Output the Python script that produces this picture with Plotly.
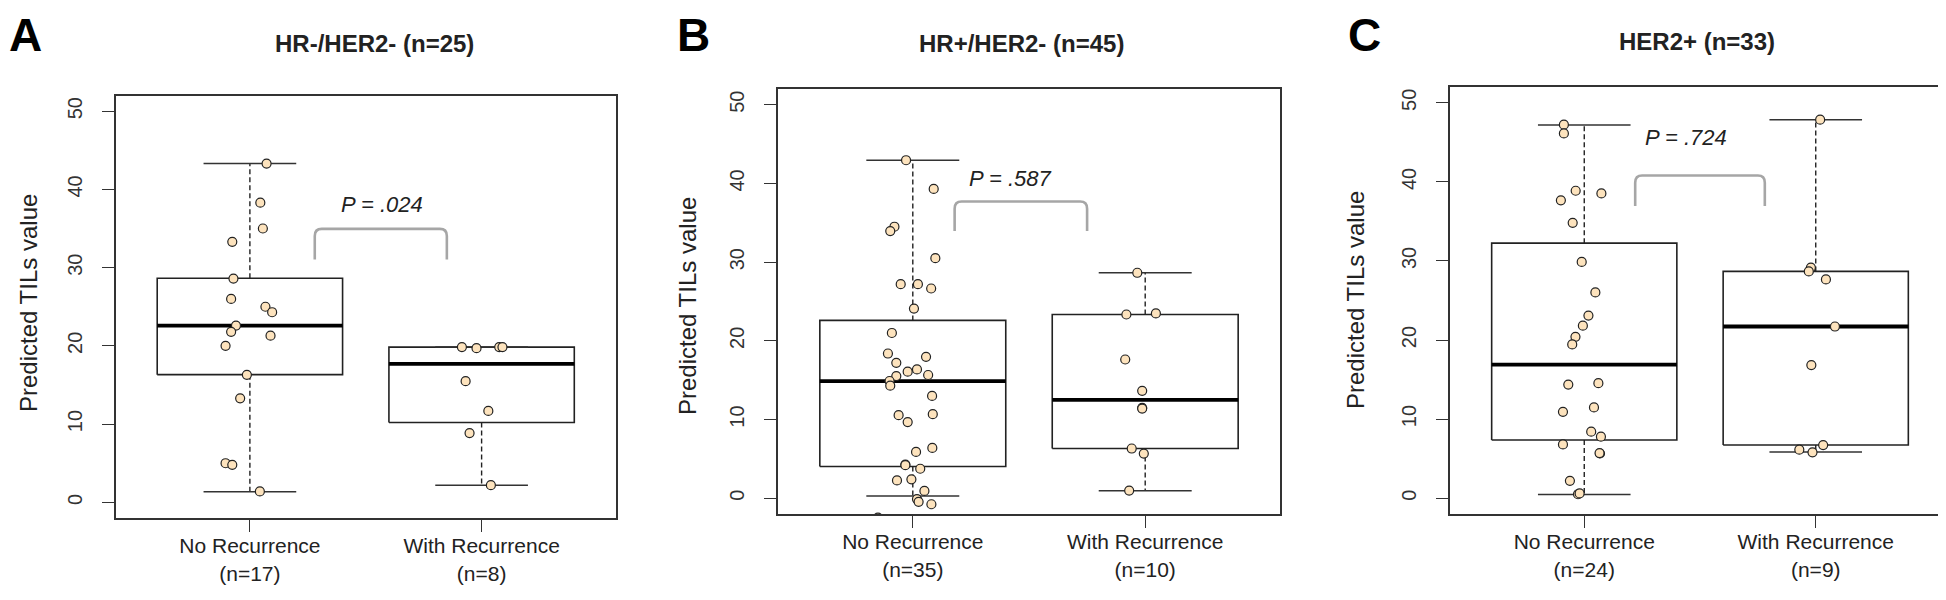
import plotly.graph_objects as go

W, H = 1946, 600

# ---------------- data ----------------
panel_letters = ["A", "B", "C"]
panel_titles = ["HR-/HER2- (n=25)", "HR+/HER2- (n=45)", "HER2+ (n=33)"]
group_names = ["No Recurrence", "With Recurrence"]
group_counts = [[17, 8], [35, 10], [24, 9]]
p_values = [".024", ".587", ".724"]
y_ticks = [0, 10, 20, 30, 40, 50]
y_title = "Predicted TILs value"

# box statistics: [lower whisker, lower hinge, median, upper hinge, upper whisker]
a_no_stats = [1.37, 16.32, 22.58, 28.64, 43.3]
a_with_stats = [2.2, 10.21, 17.69, 19.84, 19.84]
b_no_stats = [0.29, 4.04, 14.88, 22.6, 42.95]
b_with_stats = [0.97, 6.32, 12.5, 23.35, 28.65]
c_no_stats = [0.48, 7.35, 16.88, 32.25, 47.2]
c_with_stats = [5.85, 6.72, 21.71, 28.68, 47.87]

# individual predicted TILs values and their horizontal jitter (in category units)
a_no_vals = [43.3, 38.3, 35.0, 33.3, 28.6, 26.0, 25.0, 24.3, 22.6, 21.8, 21.3, 20.0, 16.3, 13.3, 5.0, 4.8, 1.4]
a_no_jit = [0.072, 0.045, 0.056, -0.076, -0.071, -0.081, 0.067, 0.096, -0.060, -0.081, 0.089, -0.105, -0.013, -0.042, -0.105, -0.076, 0.043]
a_with_vals = [19.84, 19.7, 19.84, 19.84, 15.49, 11.68, 8.85, 2.2]
a_with_jit = [-0.085, -0.022, 0.076, 0.090, -0.069, 0.029, -0.052, 0.040]

b_no_vals = [42.95, 39.3, 34.5, 33.95, 30.5, 27.2, 27.2, 26.65, 24.1,
             21.0, 18.39, 17.97, 17.21, 16.37, 16.08, 15.66, 15.53, 14.9, 14.31,
             13.0, 10.69, 10.56, 9.68, 6.40, 5.89, 4.29, 4.2, 3.75, 2.40, 2.27,
             0.93, -0.1, -0.45, -0.76, -2.45]
b_no_jit = [-0.029, 0.090, -0.079, -0.097, 0.097, -0.052, 0.022, 0.079, 0.005,
            -0.090, -0.107, 0.057, -0.071, 0.018, -0.022, 0.066, -0.071, -0.100, -0.097,
            0.083, 0.086, -0.061, -0.022, 0.084, 0.014, -0.032, -0.032, 0.032, -0.006, -0.068,
            0.050, 0.018, 0.025, 0.080, -0.150]
b_with_vals = [28.65, 23.35, 23.48, 17.63, 13.65, 11.49, 11.4, 6.32, 5.68, 0.98]
b_with_jit = [-0.034, -0.081, 0.046, -0.086, -0.013, -0.013, -0.013, -0.058, -0.006, -0.069]

c_no_vals = [47.24, 46.13, 38.88, 38.54, 37.67, 34.82, 29.88, 26.02, 23.09, 21.82, 20.41, 19.44,
             14.37, 14.54, 10.92, 11.48, 8.41, 7.78, 6.80, 5.65, 5.7, 2.20, 0.50, 0.6]
c_no_jit = [-0.088, -0.088, -0.037, 0.074, -0.101, -0.050, -0.011, 0.048, 0.018, -0.006, -0.038, -0.052,
            -0.069, 0.061, -0.092, 0.042, 0.030, 0.072, -0.092, 0.068, 0.066, -0.062, -0.027, -0.020]
c_with_vals = [47.87, 29.16, 28.68, 27.66, 21.71, 16.83, 6.14, 5.80, 6.72]
c_with_jit = [0.019, -0.021, -0.030, 0.044, 0.083, -0.019, -0.071, -0.014, 0.032]

# significance bracket: [x left, x right, y top, y leg end]; p label at [x, y]
brackets = [[1.28, 1.85, 34.95, 31.04], [1.18, 1.75, 37.7, 33.95], [1.22, 1.78, 40.8, 36.94]]
p_label_pos = [[1.57, 38.1], [1.42, 40.6], [1.44, 45.55]]

stats = [[a_no_stats, a_with_stats], [b_no_stats, b_with_stats], [c_no_stats, c_with_stats]]
vals = [[a_no_vals, a_with_vals], [b_no_vals, b_with_vals], [c_no_vals, c_with_vals]]
jits = [[a_no_jit, a_with_jit], [b_no_jit, b_with_jit], [c_no_jit, c_with_jit]]

# ---------------- layout geometry (pixels) ----------------
frames = [(107.5, 608, 87.5, 510), (770, 1272, 81, 506), (1442, 1942, 79, 506)]
title_xy = [(366, 35), (1013, 35), (1689, 34)]
letter_x = [-1, 668, 1339]
ytitle_xy = [(20, 295), (680, 298), (1347, 292)]

FONT = "Liberation Sans, Arial, sans-serif"
INK = "#222222"
FRAME = "#333333"
POINT_FILL = "#FDE3BD"
BRACKET = "#A6A6A6"
BOX_HALF = 0.4
STAPLE_HALF = 0.2

fig = go.Figure()
layout = dict(width=W, height=H, margin=dict(l=0, r=0, t=0, b=0),
              paper_bgcolor="white", plot_bgcolor="white", showlegend=False,
              annotations=[], shapes=[])

for i in range(3):
    ax = "" if i == 0 else str(i + 1)
    xa, ya = "x" + ax, "y" + ax
    x0, x1, yt, yb = frames[i]
    layout["xaxis" + ax] = dict(
        domain=[x0 / W, x1 / W], range=[0.42, 2.58], anchor=ya,
        tickvals=[1, 2],
        ticktext=[f"{group_names[0]}<br>(n={group_counts[i][0]})",
                  f"{group_names[1]}<br>(n={group_counts[i][1]})"],
        ticks="outside", ticklen=12, tickwidth=1.3, tickcolor=FRAME,
        ticklabelstandoff=-4,
        showline=True, linecolor=FRAME, linewidth=2, mirror=True,
        showgrid=False, zeroline=False,
        tickfont=dict(family=FONT, size=21, color=INK))
    layout["yaxis" + ax] = dict(
        domain=[1 - yb / H, 1 - yt / H], range=[-2, 52], anchor=xa,
        tickvals=y_ticks, tickangle=-90, ticklabelstandoff=12,
        ticks="outside", ticklen=12, tickwidth=1.3, tickcolor=FRAME,
        showline=True, linecolor=FRAME, linewidth=2, mirror=True,
        showgrid=False, zeroline=False,
        tickfont=dict(family=FONT, size=20, color="#333333"))

    for g in range(2):
        pos = g + 1
        lo, q1, med, q3, hi = stats[i][g]
        fig.add_trace(go.Scatter(
            x=[pos - BOX_HALF, pos + BOX_HALF, pos + BOX_HALF, pos - BOX_HALF, pos - BOX_HALF],
            y=[q1, q1, q3, q3, q1], mode="lines",
            line=dict(color=INK, width=1.6), xaxis=xa, yaxis=ya, hoverinfo="skip"))
        fig.add_trace(go.Scatter(
            x=[pos, pos, None, pos, pos], y=[q3, hi, None, q1, lo], mode="lines",
            line=dict(color=INK, width=1.4, dash="5px,3px"), xaxis=xa, yaxis=ya, hoverinfo="skip"))
        fig.add_trace(go.Scatter(
            x=[pos - STAPLE_HALF, pos + STAPLE_HALF, None, pos - STAPLE_HALF, pos + STAPLE_HALF],
            y=[hi, hi, None, lo, lo], mode="lines",
            line=dict(color=FRAME, width=1.5), xaxis=xa, yaxis=ya, hoverinfo="skip"))
        fig.add_trace(go.Scatter(
            x=[pos - BOX_HALF, pos + BOX_HALF], y=[med, med], mode="lines",
            line=dict(color="black", width=3.8), xaxis=xa, yaxis=ya, hoverinfo="skip"))
    for g in range(2):
        pos = g + 1
        fig.add_trace(go.Scatter(
            x=[pos + j for j in jits[i][g]], y=vals[i][g], mode="markers",
            marker=dict(size=9, color=POINT_FILL, line=dict(color=INK, width=1.2)),
            xaxis=xa, yaxis=ya, cliponaxis=True))

    bx0, bx1, byt, byb = brackets[i]
    rx, ry = 0.03, 0.9
    path = (f"M {bx0},{byb} L {bx0},{byt - ry} Q {bx0},{byt} {bx0 + rx},{byt} "
            f"L {bx1 - rx},{byt} Q {bx1},{byt} {bx1},{byt - ry} L {bx1},{byb}")
    layout["shapes"].append(dict(type="path", path=path, xref=xa, yref=ya,
                                 line=dict(color=BRACKET, width=2.6)))
    layout["annotations"].append(dict(
        text=f"<i>P = {p_values[i]}</i>", x=p_label_pos[i][0], y=p_label_pos[i][1],
        xref=xa, yref=ya, showarrow=False, xanchor="center", yanchor="middle",
        font=dict(family=FONT, size=22, color=INK)))

    layout["annotations"].append(dict(
        text=f"<b>{panel_titles[i]}</b>", x=title_xy[i][0] / W, y=1 - title_xy[i][1] / H,
        xref="paper", yref="paper", showarrow=False, xanchor="center", yanchor="middle",
        font=dict(family=FONT, size=24, color=INK)))
    layout["annotations"].append(dict(
        text=f"<b>{panel_letters[i]}</b>", x=max(letter_x[i], 0) / W, y=1.0,
        xref="paper", yref="paper", showarrow=False, xanchor="left", yanchor="top",
        borderpad=0, font=dict(family=FONT, size=46, color="black")))
    layout["annotations"].append(dict(
        text=y_title, x=ytitle_xy[i][0] / W, y=1 - ytitle_xy[i][1] / H,
        xref="paper", yref="paper", showarrow=False, xanchor="center", yanchor="middle",
        textangle=-90, font=dict(family=FONT, size=24, color=INK)))

fig.update_layout(**layout)
fig.write_html("out.html")
